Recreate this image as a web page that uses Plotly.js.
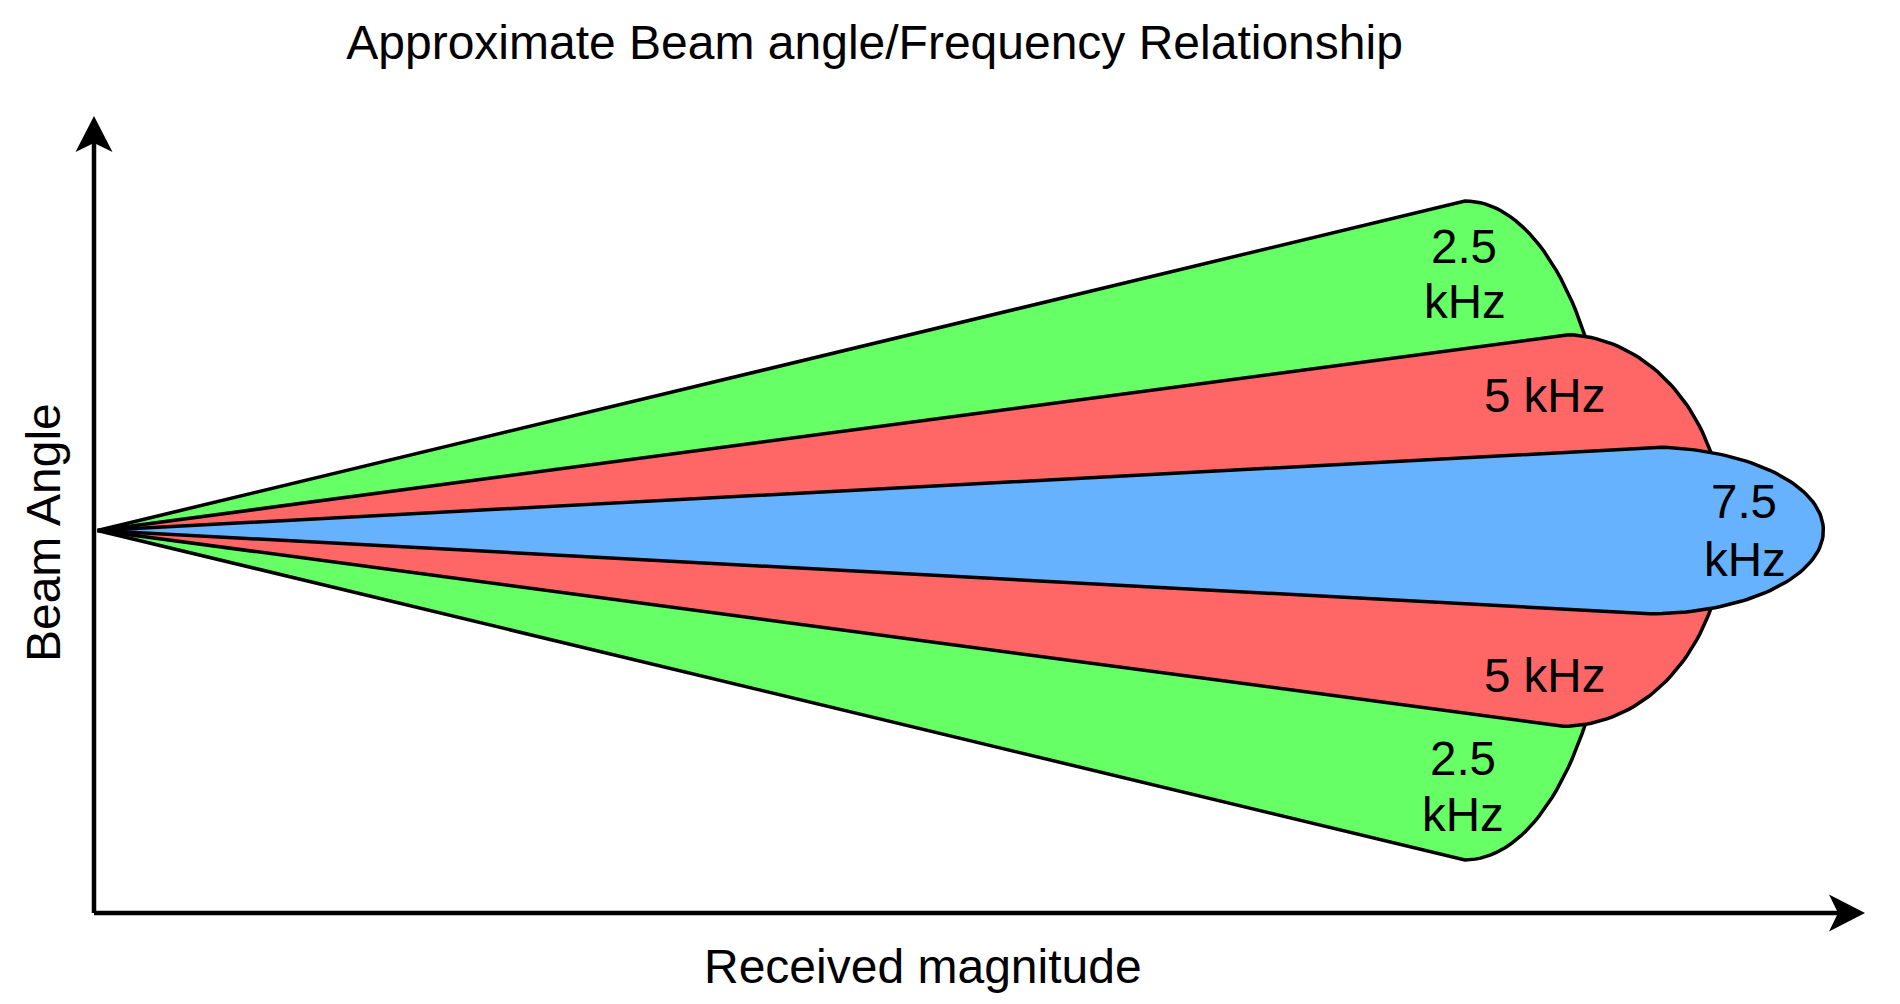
<!DOCTYPE html>
<html>
<head>
<meta charset="utf-8">
<script src="https://cdn.plot.ly/plotly-3.0.1.min.js"></script>
<style>
html, body { margin: 0; padding: 0; background: #ffffff; }
#chart { width: 1900px; height: 1004px; }
</style>
</head>
<body>
<div id="chart"></div>
<script>
// ---- Data (x: received magnitude 0..100, y: beam angle 0..100) ----
const bandNames   = ['2.5 kHz', '5 kHz', '7.5 kHz'];
const bandColors  = ['#66FF66', '#FF6666', '#66B2FF'];
const apexX       = 0.2;                    // common origin of the beams
const beamAxisY   = 48;                     // beam centre line
const tipX        = [77.41, 82.96, 87.86];  // where the straight edges end
const halfSpread  = [41.34, 24.57, 10.45];  // half beam width at the tip
const capDepth    = [8.4, 9.09, 9.79];      // how far the rounded cap reaches past the tip

const labelText = ['2.5', 'kHz', '5 kHz', '7.5', 'kHz', '5 kHz', '2.5', 'kHz'];
const labelX    = [77.36, 77.41, 81.93, 93.17, 93.21, 81.90, 77.30, 77.30];
const labelY    = [83.59, 76.69, 64.99, 51.57, 44.35, 29.86, 19.39, 12.30];

const titleText  = 'Approximate Beam angle/Frequency Relationship';
const xAxisLabel = 'Received magnitude';
const yAxisLabel = 'Beam Angle';
const axisMax    = [100, 100];

// ---- Build traces ----
const FONT = 'Liberation Sans, Arial, Helvetica, sans-serif';
const traces = bandNames.map((name, i) => {
  const xs = [apexX];
  const ys = [beamAxisY];
  for (let deg = 90; deg >= -90; deg -= 2) {
    const t = deg * Math.PI / 180;
    xs.push(tipX[i] + capDepth[i] * Math.cos(t));
    ys.push(beamAxisY + halfSpread[i] * Math.sin(t));
  }
  xs.push(apexX);
  ys.push(beamAxisY);
  return {
    type: 'scatter',
    mode: 'lines',
    name: name,
    x: xs,
    y: ys,
    fill: 'toself',
    fillcolor: bandColors[i],
    line: { color: '#000000', width: 3.5 },
    hoverinfo: 'skip',
    showlegend: false
  };
});

const annotations = labelText.map((t, i) => ({
  x: labelX[i], y: labelY[i], xref: 'x', yref: 'y',
  text: t, showarrow: false,
  xanchor: 'center', yanchor: 'middle',
  font: { family: FONT, size: 47.5, color: '#000000' }
}));
annotations.push({
  x: 46.79, y: -6.65, xref: 'x', yref: 'y', text: xAxisLabel, showarrow: false,
  xanchor: 'center', yanchor: 'middle',
  font: { family: FONT, size: 48, color: '#000000' }
});
annotations.push({
  x: -2.82, y: 47.68, xref: 'x', yref: 'y', text: yAxisLabel, showarrow: false,
  textangle: -90, xanchor: 'center', yanchor: 'middle',
  font: { family: FONT, size: 48, color: '#000000' }
});

const shapes = [
  { type: 'line', xref: 'x', yref: 'y', x0: 0, y0: 0, x1: axisMax[0] - 1.5, y1: 0,
    line: { color: '#000000', width: 4.5 } },
  { type: 'line', xref: 'x', yref: 'y', x0: 0, y0: 0, x1: 0, y1: axisMax[1] - 3.4,
    line: { color: '#000000', width: 4.5 } },
  { type: 'path', xref: 'x', yref: 'y', xsizemode: 'pixel', ysizemode: 'pixel',
    xanchor: axisMax[0], yanchor: 0,
    path: 'M0,0 L-36,18.5 L-27,0 L-36,-18.5 Z',
    fillcolor: '#000000', line: { width: 0 } },
  { type: 'path', xref: 'x', yref: 'y', xsizemode: 'pixel', ysizemode: 'pixel',
    xanchor: 0, yanchor: axisMax[1],
    path: 'M0,0 L-18.5,-36 L0,-27 L18.5,-36 Z',
    fillcolor: '#000000', line: { width: 0 } }
];

const layout = {
  width: 1900,
  height: 1004,
  margin: { l: 0, r: 0, t: 0, b: 0, pad: 0 },
  paper_bgcolor: '#ffffff',
  plot_bgcolor: '#ffffff',
  title: {
    text: titleText,
    font: { family: FONT, size: 48, color: '#000000' },
    x: 0.4603, xanchor: 'center', xref: 'paper',
    y: 0.9577, yanchor: 'middle', yref: 'container'
  },
  xaxis: { range: [-5.308, 101.976], visible: false, fixedrange: true },
  yaxis: { range: [-11.418, 114.555], visible: false, fixedrange: true },
  showlegend: false,
  annotations: annotations,
  shapes: shapes
};

Plotly.newPlot('chart', traces, layout, { displayModeBar: false, staticPlot: true });
</script>
</body>
</html>
